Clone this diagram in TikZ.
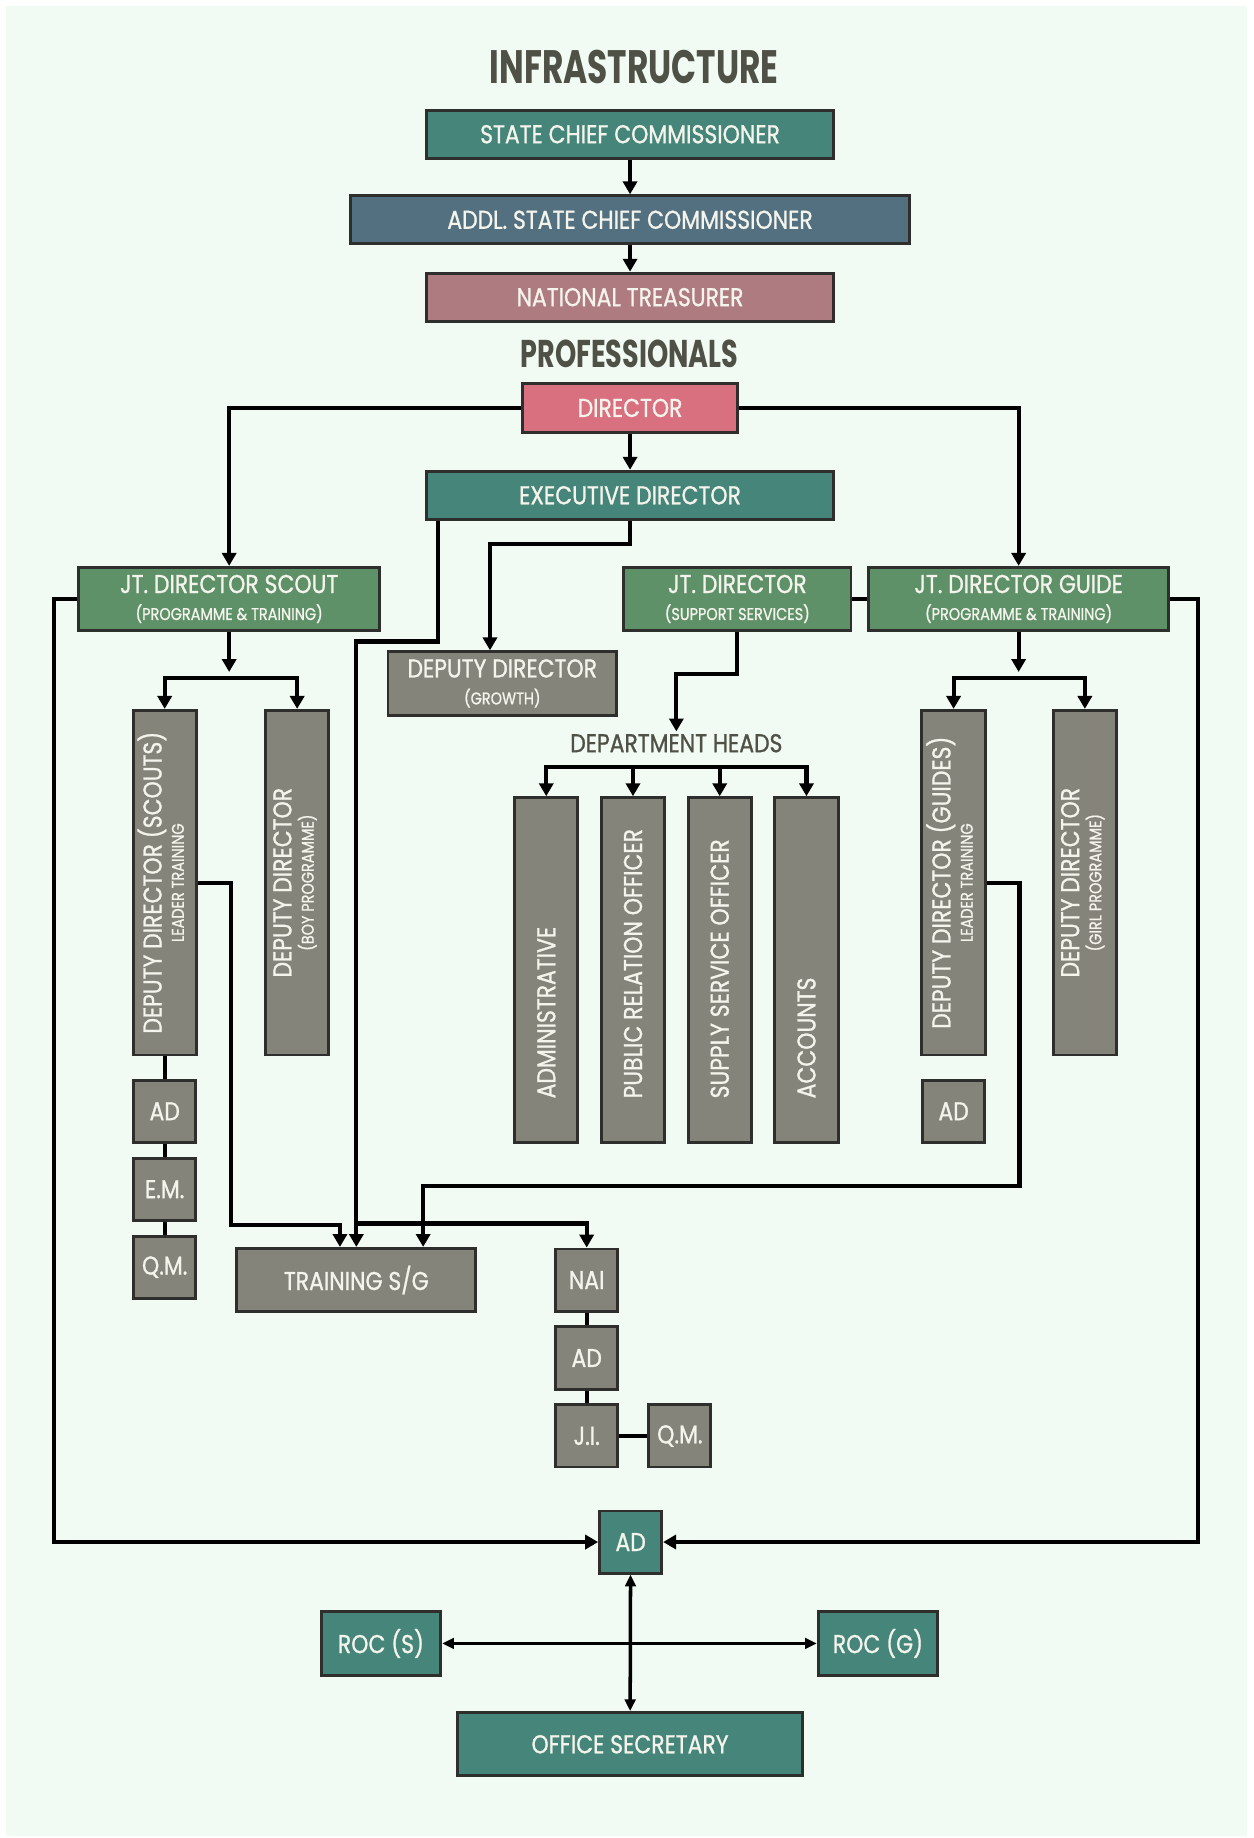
\documentclass[tikz,border=0pt]{standalone}
\usepackage{fontspec}
\setmainfont{Poppins}
\newfontfamily\boxfont[FakeStretch=0.85,FakeBold=1]{Poppins}
\newfontfamily\headfont[FakeStretch=0.7]{Poppins}
\usetikzlibrary{positioning,arrows.meta,calc}

\definecolor{mint}{HTML}{F1FBF3}
\definecolor{cTeal}{HTML}{46867A}
\definecolor{cSlate}{HTML}{52707F}
\definecolor{cMauve}{HTML}{AD7B80}
\definecolor{cPink}{HTML}{D9707F}
\definecolor{cGreen}{HTML}{5F9169}
\definecolor{cStone}{HTML}{85847A}
\definecolor{edge}{HTML}{2E2E2C}
\definecolor{ink}{HTML}{4F5146}
\definecolor{paper}{HTML}{F4F4EC}

\newcommand\subline[1]{{\fontsize{14.5}{16}\selectfont #1}}
\newcommand\vlabel[2]{\rotatebox{90}{\begin{tabular}{@{}c@{}}#1\\[-4pt]\subline{#2}\end{tabular}}}
\newcommand\vhead[1]{\rotatebox{90}{\makebox[219pt][l]{#1}}}

\tikzset{
	>={Triangle[width=12pt,length=11pt]}
}

\begin{document}
\begin{tikzpicture}[
x = 1pt, y = -1pt,
node distance = 11pt,
every node/.style = {
	font = \boxfont\fontsize{22}{23}\selectfont,
	text = paper
},
box/.style = {
	draw = edge,
	line width = 2.5pt,
	inner sep = 0pt,
	align = center
},
tall/.style = {
	box,
	fill = cStone,
	minimum width = 54pt,
	minimum height = 294pt
},
unit/.style = {
	box,
	fill = cStone,
	minimum width = 53pt,
	minimum height = 53pt
},
heading/.style = {
	font = \headfont\bfseries\fontsize{40}{40}\selectfont,
	text = ink
},
link/.style = {
	line width = 3.5pt
},
twoway/.style = {
	line width = 3pt,
	{Triangle[width=9pt,length=10pt]}-{Triangle[width=9pt,length=10pt]}
}
]

\useasboundingbox (0,0) rectangle (1069,1568);
\fill[white] (0,0) rectangle (1069,1568);
\fill[mint] (5,5) rectangle (1064,1566);

% infrastructure
\node (infra) [heading] at (541,57) {INFRASTRUCTURE};
\node (scc) [box, fill=cTeal, minimum width=347pt, minimum height=41pt] at (537.5,114.5) {STATE CHIEF COMMISSIONER};
\node (ascc) [box, fill=cSlate, minimum width=477pt, minimum height=41pt] at (537.5,187.5) {ADDL. STATE CHIEF COMMISSIONER};
\node (treasurer) [box, fill=cMauve, minimum width=347pt, minimum height=41pt] at (537.5,253.5) {NATIONAL TREASURER};

% professionals
\node (prof) [heading, font=\headfont\bfseries\fontsize{33}{33}\selectfont] at (537,302) {PROFESSIONALS};
\node (director) [box, fill=cPink, minimum width=183pt, minimum height=42pt] at (537.5,348) {DIRECTOR};
\node (exec) [box, fill=cTeal, minimum width=347pt, minimum height=41pt] at (537.5,422.5) {EXECUTIVE DIRECTOR};

\node (jtscout) [box, fill=cGreen, minimum width=257pt, minimum height=54pt] at (195.5,511) {JT. DIRECTOR SCOUT\\\subline{(PROGRAMME \& TRAINING)}};
\node (jtsupport) [box, fill=cGreen, minimum width=194pt, minimum height=54pt] at (629,511) {JT. DIRECTOR\\\subline{(SUPPORT SERVICES)}};
\node (jtguide) [box, fill=cGreen, minimum width=256pt, minimum height=54pt] at (869,511) {JT. DIRECTOR GUIDE\\\subline{(PROGRAMME \& TRAINING)}};
\node (growth) [box, fill=cStone, minimum width=195pt, minimum height=54pt] at (428.5,583) {DEPUTY DIRECTOR\\\subline{(GROWTH)}};

% scout side
\node (ddscouts) [tall] at (140.5,753) {\vlabel{DEPUTY DIRECTOR (SCOUTS)}{LEADER TRAINING}};
\node (ddboy) [tall] at (253.5,753) {\vlabel{DEPUTY DIRECTOR}{(BOY PROGRAMME)}};
\node (adS) [unit, below=19pt of ddscouts] {AD};
\node (emS) [unit, below=of adS] {E.M.};
\node (qmS) [unit, below=of emS] {Q.M.};

% guide side
\node (ddguides) [tall] at (813.5,753) {\vlabel{DEPUTY DIRECTOR (GUIDES)}{LEADER TRAINING}};
\node (ddgirl) [tall] at (925.5,753) {\vlabel{DEPUTY DIRECTOR}{(GIRL PROGRAMME)}};
\node (adG) [unit, below=19pt of ddguides] {AD};

% department heads
\node (depts) [text=ink, inner sep=2pt] at (577,634) {DEPARTMENT HEADS};
\node (admin) [tall] at (466,827.5) {\vhead{ADMINISTRATIVE}};
\node (pro) [tall, right=17.5pt of admin] {\vhead{PUBLIC RELATION OFFICER}};
\node (supply) [tall, right=17.5pt of pro] {\vhead{SUPPLY SERVICE OFFICER}};
\node (acc) [tall, right=17.5pt of supply] {\vhead{ACCOUNTS}};

% training
\node (training) [box, fill=cStone, minimum width=204pt, minimum height=54pt] at (304,1092) {TRAINING S/G};
\node (nai) [unit] at (500.5,1092) {NAI};
\node (adN) [unit, below=of nai] {AD};
\node (ji) [unit, below=of adN] {J.I.};
\node (qmN) [unit, right=24pt of ji] {Q.M.};

% office
\node (adB) [unit, fill=cTeal] at (538,1315.5) {AD};
\node (rocS) [box, fill=cTeal, minimum width=102pt, minimum height=54pt] at (325,1402) {ROC (S)};
\node (rocG) [box, fill=cTeal, minimum width=102pt, minimum height=54pt] at (749,1402) {ROC (G)};
\node (secretary) [box, fill=cTeal, minimum width=295pt, minimum height=54pt] at (537.5,1488) {OFFICE SECRETARY};

\draw[link, ->] (scc) -- (ascc);
\draw[link, ->] (ascc) -- (treasurer);
\draw[link, ->] (director) -- (exec);
\draw[link, ->] (director) -| (jtscout);
\draw[link, ->] (director) -| (jtguide);
\draw[link, ->] ([xshift=11pt]exec.south west) -- ++(0,103) -| (training);
\draw[link, ->] (exec.south) -- ++(0,20) -| ([xshift=-10.5pt]growth.north);

\draw[link, ->] (jtscout.south) -- ++(0,34);
\draw[link, <->] (ddscouts.north) |- ([yshift=26pt]ddboy.north) -- (ddboy.north);
\draw[link, ->] (jtguide.south) -- ++(0,34);
\draw[link, <->] (ddguides.north) |- ([yshift=26pt]ddgirl.north) -- (ddgirl.north);

\draw[link] (jtsupport) -- (jtguide);
\draw[link, ->] (jtsupport.south) -- ++(0,36) -| (depts.north);
\draw[link, <->] (admin.north) |- ([yshift=25pt]acc.north) -- (acc.north);
\draw[link, ->] ([yshift=25pt]pro.north) -- (pro.north);
\draw[link, ->] ([yshift=25pt]supply.north) -- (supply.north);

\draw[link, ->] (ddscouts.east) -| ++(28,292) -| ([xshift=-14pt]training.north);
\draw[link, ->] (ddguides.east) -| ++(28,259) -| ([xshift=57pt]training.north);
\draw[link, ->] (training.north) ++(0,-20) -| (nai.north);

\draw[link] (ddscouts) -- (adS) -- (emS) -- (qmS);
\draw[link] (nai) -- (adN) -- (ji) -- (qmN);

\draw[link, ->] (jtscout.west) -- ++(-20,0) |- (adB);
\draw[link, ->] (jtguide.east) -- ++(24,0) |- (adB);
\draw[twoway] (adB) -- (secretary);
\draw[twoway] (rocS) -- (rocG);

\end{tikzpicture}
\end{document}
